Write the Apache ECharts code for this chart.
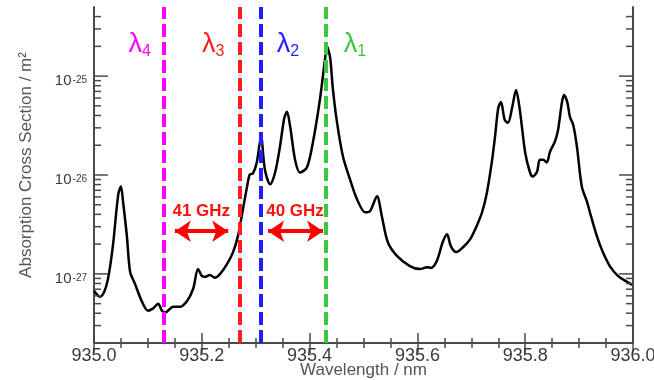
<!DOCTYPE html>
<html>
<head>
<meta charset="utf-8">
<script src="https://cdn.jsdelivr.net/npm/echarts@6/dist/echarts.min.js"></script>
<style>
  html, body { margin: 0; padding: 0; background: #fff; }
  #chart { width: 654px; height: 380px; }
</style>
</head>
<body>
<div id="chart"></div>
<script>
// spectrum (wavelength in nm, cross section in m^2)
const wavelength = [935.000, 935.011, 935.019, 935.026, 935.035, 935.045, 935.050, 935.054, 935.061, 935.067,
  935.076, 935.089, 935.100, 935.109, 935.119, 935.126, 935.132, 935.147, 935.160, 935.173,
  935.184, 935.193, 935.200, 935.206, 935.215, 935.224, 935.234, 935.247, 935.258, 935.267,
  935.276, 935.284, 935.289, 935.295, 935.302, 935.310, 935.317, 935.327, 935.336, 935.345,
  935.353, 935.358, 935.364, 935.373, 935.382, 935.395, 935.406, 935.419, 935.429, 935.432,
  935.438, 935.443, 935.451, 935.462, 935.475, 935.488, 935.503, 935.512, 935.525, 935.534,
  935.545, 935.562, 935.586, 935.605, 935.618, 935.625, 935.636, 935.647, 935.655, 935.662,
  935.672, 935.685, 935.698, 935.709, 935.720, 935.729, 935.738, 935.744, 935.750, 935.755,
  935.762, 935.768, 935.776, 935.783, 935.790, 935.800, 935.809, 935.814, 935.822, 935.827,
  935.833, 935.840, 935.846, 935.855, 935.861, 935.868, 935.872, 935.878, 935.883, 935.889,
  935.896, 935.905, 935.915, 935.920, 935.933, 935.944, 935.957, 935.972, 935.989, 935.998]
const crossSection = [6.75e-28, 5.87e-28, 6.59e-28, 8.91e-28, 1.91e-27, 6.37e-27, 7.66e-27, 5.30e-27, 2.41e-27, 1.05e-27,
  7.93e-28, 5.24e-28, 4.25e-28, 4.45e-28, 4.99e-28, 4.25e-28, 4.06e-28, 4.66e-28, 4.66e-28, 5.36e-28,
  7.07e-28, 1.12e-27, 9.55e-28, 9.33e-28, 9.77e-28, 9.12e-28, 1.00e-27, 1.26e-27, 1.66e-27, 2.41e-27,
  4.40e-27, 7.66e-27, 1.01e-26, 1.04e-26, 1.34e-26, 2.44e-26, 1.14e-26, 8.04e-27, 1.06e-26, 1.93e-26,
  3.78e-26, 4.35e-26, 3.07e-26, 1.43e-26, 1.06e-26, 1.19e-26, 2.12e-26, 5.74e-26, 1.55e-25, 2.00e-25,
  1.55e-25, 7.57e-26, 3.37e-26, 1.53e-26, 9.02e-27, 5.68e-27, 4.20e-27, 4.30e-27, 6.08e-27, 3.83e-27,
  2.10e-27, 1.52e-27, 1.20e-27, 1.12e-27, 1.17e-27, 1.15e-27, 1.35e-27, 2.10e-27, 2.52e-27, 1.91e-27,
  1.66e-27, 1.87e-27, 2.25e-27, 2.97e-27, 4.20e-27, 6.67e-27, 1.34e-26, 2.44e-26, 4.76e-26, 5.48e-26,
  3.61e-26, 3.37e-26, 4.88e-26, 7.23e-26, 4.55e-26, 1.68e-26, 1.06e-26, 9.66e-27, 1.08e-26, 1.43e-26,
  1.43e-26, 1.34e-26, 1.72e-26, 2.17e-26, 2.86e-26, 5.36e-26, 6.44e-26, 5.48e-26, 3.87e-26, 3.22e-26,
  1.93e-26, 7.66e-27, 5.30e-27, 4.20e-27, 2.41e-27, 1.66e-27, 1.20e-27, 9.55e-28, 8.32e-28, 7.75e-28]

// laser lines
const lambdaNames = ['4', '3', '2', '1']
const lambdaPos = [935.132, 935.270, 935.312, 935.432]
const lambdaColors = ['#ff00ff', '#ff1f1f', '#1f1fff', '#3cc83c']
const lambdaLabelX = [935.085, 935.221, 935.360, 935.484]
const lambdaLabelY = 2.05e-25

// spacing arrows
const gapLabels = ['41 GHz', '40 GHz']
const gapLabelX = [935.199, 935.373]
const gapLabelY = 4.3e-27
const gapFrom = [935.150, 935.323]
const gapTo = [935.249, 935.425]
const gapY = 2.7e-27

const xMin = 935.0, xMax = 936.0
const yMin = 2e-28, yMax = 5e-25

// major and minor ticks of the log axes
const yMajor = [1e-27, 1e-26, 1e-25]
const yMinor = []
for (let p = -28; p <= -25; p++) {
  for (let k = 2; k <= 9; k++) {
    const v = k * Math.pow(10, p)
    if (v > yMin * 1.0001 && v < yMax) yMinor.push(v)
  }
}

const axisColor = '#4a4a4a'
const font = 'Liberation Sans, Arial, sans-serif'

const chart = echarts.init(document.getElementById('chart'))

const expLabel = (v) => {
  const e = Math.log10(v)
  if (Math.abs(e - Math.round(e)) > 1e-6) return ''
  return '{b|10}{s|' + Math.round(e) + '}'
}

const option = {
  animation: false,
  grid: { left: 94, right: 21, top: 7, bottom: 37, outerBoundsMode: 'none', containLabel: false },
  xAxis: [
    {
      type: 'value', min: xMin, max: xMax, interval: 0.2,
      name: 'Wavelength / nm', nameLocation: 'middle', nameGap: 19, nameMoveOverlap: false,
      nameTextStyle: { fontFamily: font, fontSize: 17, color: '#555' },
      axisLine: { lineStyle: { color: axisColor, width: 2 } },
      axisTick: { inside: true, length: 10, lineStyle: { color: axisColor, width: 1.5 } },
      minorTick: { show: true, splitNumber: 4, length: 5, lineStyle: { color: axisColor, width: 1.5 } },
      splitLine: { show: false },
      axisLabel: { fontFamily: font, fontSize: 18, color: '#3a3a3a', margin: 4, formatter: v => v.toFixed(1) }
    },
    {
      type: 'value', position: 'top', min: xMin, max: xMax, interval: 0.2,
      axisLine: { lineStyle: { color: axisColor, width: 2 } },
      axisTick: { inside: true, length: 10, lineStyle: { color: axisColor, width: 1.5 } },
      minorTick: { show: true, splitNumber: 4, length: 5, lineStyle: { color: axisColor, width: 1.5 } },
      splitLine: { show: false },
      axisLabel: { show: false }
    }
  ],
  yAxis: [
    {
      type: 'log', logBase: 10, min: yMin, max: yMax,
      name: 'Absorption Cross Section / m²', nameLocation: 'middle', nameGap: 59, nameMoveOverlap: false,
      nameTextStyle: { fontFamily: font, fontSize: 17, color: '#555', padding: [0, 0, 0, 20] },
      axisLine: { lineStyle: { color: axisColor, width: 2 } },
      axisTick: { show: false },
      splitLine: { show: false },
      axisLabel: {
        margin: 7, showMinLabel: false, showMaxLabel: false,
        formatter: expLabel,
        rich: {
          b: { fontFamily: font, fontSize: 15, color: '#3a3a3a', lineHeight: 15, padding: [10, 0, 0, 0] },
          s: { fontFamily: font, fontSize: 10, color: '#3a3a3a', lineHeight: 10, verticalAlign: 'top', padding: [7, 0, 0, 1] }
        }
      }
    },
    {
      type: 'log', logBase: 10, min: yMin, max: yMax, position: 'right',
      axisLine: { lineStyle: { color: axisColor, width: 2 } },
      axisTick: { show: false },
      splitLine: { show: false },
      axisLabel: { show: false }
    }
  ],
  series: [
    {
      type: 'line',
      data: wavelength.map((w, i) => [w, crossSection[i]]),
      showSymbol: false,
      smooth: 0.3,
      lineStyle: { color: '#000', width: 2.5 },
      z: 2
    },
    {
      // annotations: laser lines, labels, arrows
      type: 'line',
      data: [],
      z: 5,
      markLine: {
        silent: true,
        z: 5,
        animation: false,
        symbol: ['none', 'none'],
        label: { show: false },
        data: lambdaPos.map((x, i) => ({
          xAxis: x,
          lineStyle: { color: lambdaColors[i], width: 4, type: [13, 5] }
        })).concat(gapFrom.map((x, i) => [
          { coord: [x, gapY], symbol: 'arrow', symbolSize: [16, 16], lineStyle: { color: '#ff0000', width: 4, type: 'solid' } },
          { coord: [gapTo[i], gapY], symbol: 'arrow', symbolSize: [16, 16] }
        ]))
      },
      markPoint: {
        silent: true,
        symbol: 'circle',
        symbolSize: 0,
        data: lambdaNames.map((n, i) => ({
          coord: [lambdaLabelX[i], lambdaLabelY],
          label: {
            show: true,
            formatter: '{l|λ}{s|' + n + '}',
            rich: {
              l: { fontFamily: font, fontSize: 27, color: lambdaColors[i], lineHeight: 28, verticalAlign: 'top' },
              s: { fontFamily: font, fontSize: 16, color: lambdaColors[i], lineHeight: 16, verticalAlign: 'bottom' }
            }
          }
        })).concat(gapLabels.map((t, i) => ({
          coord: [gapLabelX[i], gapLabelY],
          label: { show: true, formatter: t, fontFamily: font, fontSize: 17, fontWeight: 'bold', color: '#ff1010' }
        })))
      }
    }
  ]
}

try {
  chart.setOption(option)
} catch (e) {
  console.error(e)
}

// inward ticks on both log axes; positions come from the chart's own scales,
// the marks go straight onto the zrender layer
const toPixel = (x, v) => {
  try {
    const p = chart.convertToPixel({ xAxisIndex: 0, yAxisIndex: 0 }, [x, v])
    if (p && isFinite(p[0]) && isFinite(p[1])) return p
  } catch (e) {}
  const m = chart.getModel()
  const xa = m.getComponent('xAxis', 0).axis
  const ya = m.getComponent('yAxis', 0).axis
  return [xa.toGlobalCoord(xa.dataToCoord(x)), ya.toGlobalCoord(ya.dataToCoord(v))]
}

const zr = chart.getZr()
const addTick = (v, len) => {
  const l = toPixel(xMin, v)
  const r = toPixel(xMax, v)
  const style = { stroke: axisColor, lineWidth: 1.5 }
  zr.add(new echarts.graphic.Line({ z: 100, silent: true, shape: { x1: l[0], y1: l[1], x2: l[0] + len, y2: l[1] }, style }))
  zr.add(new echarts.graphic.Line({ z: 100, silent: true, shape: { x1: r[0] - len, y1: r[1], x2: r[0], y2: r[1] }, style }))
}
yMajor.forEach(v => addTick(v, 14))
yMinor.forEach(v => addTick(v, 7))
</script>
</body>
</html>
